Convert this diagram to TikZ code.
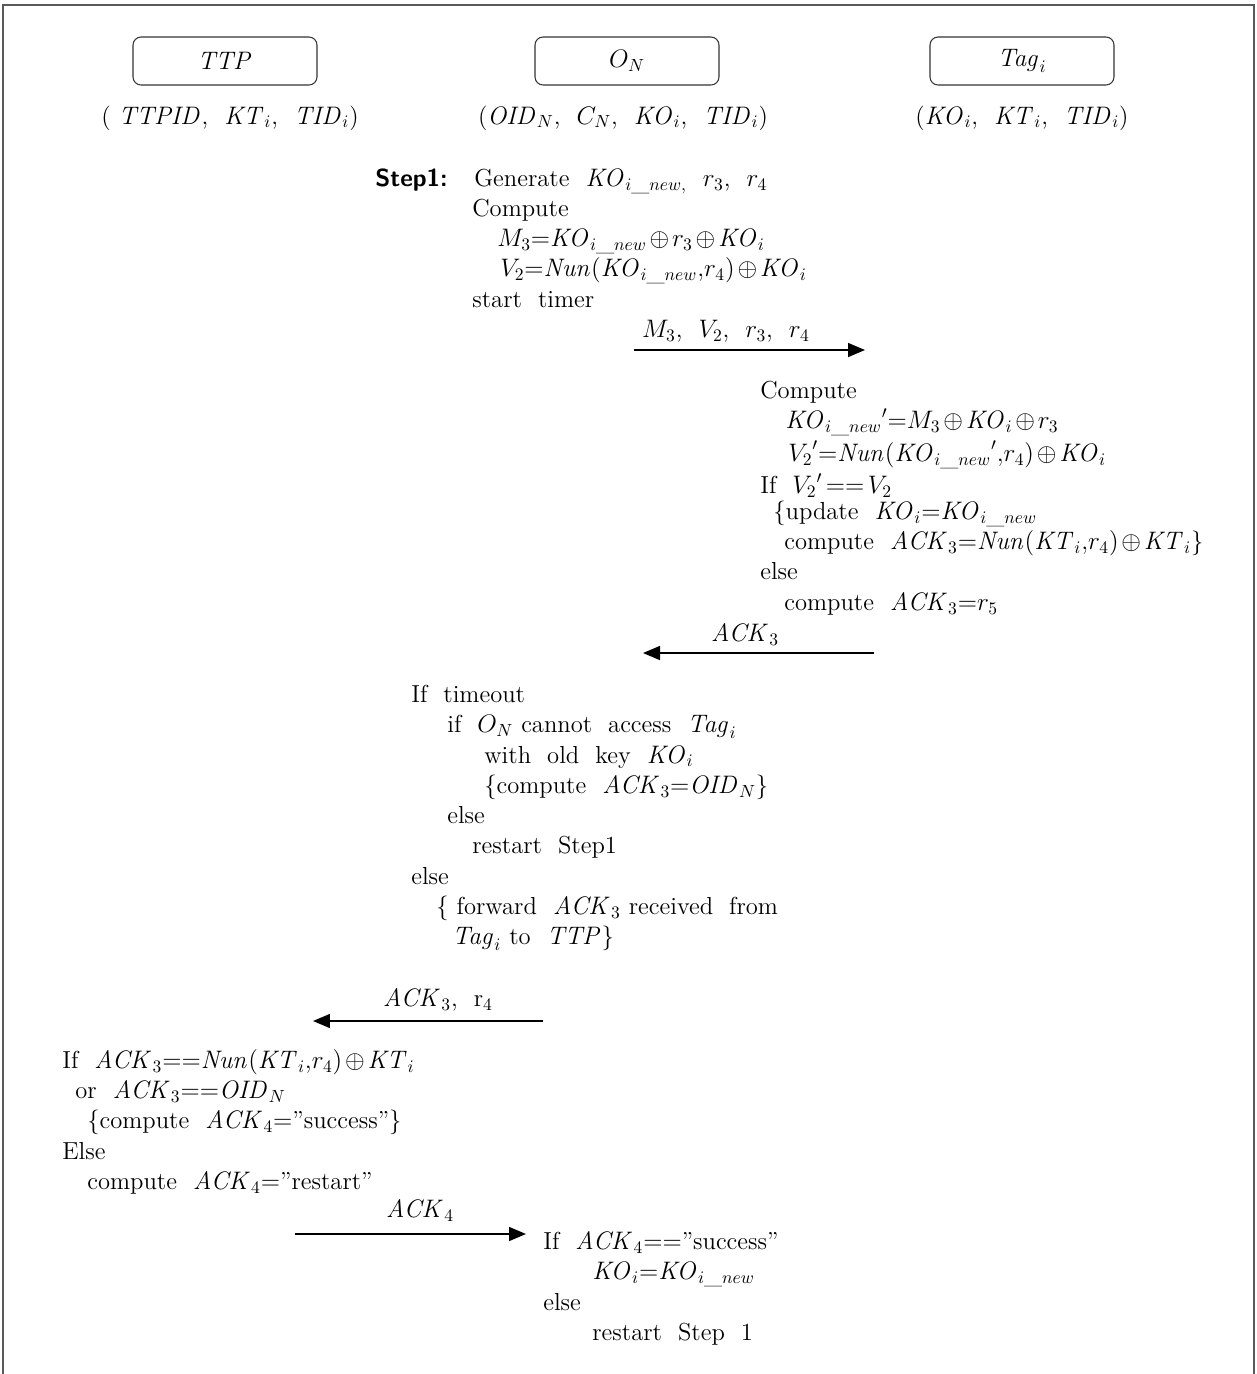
\documentclass[tikz,border=0pt]{standalone}
\usepackage{tikz}
\usetikzlibrary{arrows.meta}
\medmuskip=2mu plus 1mu minus 1mu\relax
\thickmuskip=2.5mu plus 1mu\relax
\tikzstyle{party} = [rectangle, rounded corners=0.16cm, minimum width=3.68cm, minimum height=0.96cm, text centered, draw=black!80, line width=0.6pt]
\tikzstyle{calc} = [anchor=north west, align=left, inner sep=0pt]
\tikzstyle{lbl} = [inner sep=0pt]
\tikzstyle{msg} = [line width=0.85pt, -{Triangle[length=0.34cm, width=0.28cm]}]

\begin{document}
\begin{tikzpicture}[x=0.02cm, y=-0.02cm, node distance=1.14cm, font=\fontsize{14}{17.2}\selectfont]
	\useasboundingbox (0,0) rectangle (1257,1374);
	\draw [line width=0.8pt, black!65] (3,1374) -- (3,5) -- (1254,5) -- (1254,1374);
	% parties and their keys
	\node (ttp) [party] at (225,61) {$\mathit{TTP}$};
	\node (on) [party] at (627,61) {$O_N$};
	\node (tag) [party] at (1022,61) {$\mathit{Tag}_i$};
	\node (ttpkey) [below of=ttp, xshift=0.1cm] {(~$\mathit{TTPID}$,~ $\mathit{KT}_i$,~ $\mathit{TID}_i$)};
	\node (onkey) [below of=on, xshift=-0.08cm] {($\mathit{OID}_N$,~ $C_N$,~ $\mathit{KO}_i$,~ $\mathit{TID}_i$)};
	\node (tagkey) [below of=tag] {($\mathit{KO}_i$,~ $\mathit{KT}_i$,~ $\mathit{TID}_i$)};
	% step 1 at O_N
	\node (step) [calc] at (375,169) {\textsf{\textbf{Step1:}}};
	\node (gen) [calc] at (474,169) {Generate~ $\mathit{KO}_{i\_new,}$~ $r_3$,~ $r_4$\\[-0.3pt] \hspace*{-0.04cm}Compute\\ \hspace*{0.46cm}$M_3{=}\mathit{KO}_{i\_new}\oplus r_3\oplus \mathit{KO}_i$\\ \hspace*{0.52cm}$V_2{=}\mathit{Nun}(\mathit{KO}_{i\_new}{,}r_4)\oplus \mathit{KO}_i$\\ \hspace*{-0.04cm}start~ timer};
	\coordinate (m1s) at (634,350);
	\coordinate (m1e) at (865,350);
	\draw [msg] (m1s) -- (m1e);
	\node (m1) [lbl] at (726,331) {$M_3$,~ $V_2$,~ $r_3$,~ $r_4$};
	% check at Tag_i
	\node (tagchk) [calc] at (760,381) {Compute\\ \hspace*{0.5cm}${\mathit{KO}_{i\_new}}'{=}M_3\oplus \mathit{KO}_i\oplus r_3$\\[1.3pt] \hspace*{0.56cm}${V_2}'{=}\mathit{Nun}({\mathit{KO}_{i\_new}}'{,}r_4)\oplus \mathit{KO}_i$\\[1.3pt] If~ ${V_2}'==V_2$\\[-2.6pt] \hspace*{0.26cm}\{update~ $\mathit{KO}_i{=}\mathit{KO}_{i\_new}$\\ \hspace*{0.48cm}compute~ $\mathit{ACK}_3{=}\mathit{Nun}(\mathit{KT}_i{,}r_4)\oplus \mathit{KT}_i$\}\\ else\\ \hspace*{0.48cm}compute~ $\mathit{ACK}_3{=}r_5$};
	\coordinate (m2s) at (874,653);
	\coordinate (m2e) at (643,653);
	\draw [msg] (m2s) -- (m2e);
	\node (m2) [lbl] at (745,635) {$\mathit{ACK}_3$};
	% O_N forwards
	\node (onfwd) [calc] at (411,685) {If~ timeout\\ \hspace*{0.72cm}if~ $O_N$ cannot~ access~ $\mathit{Tag}_i$\\ \hspace*{1.46cm}with~ old~ key~ $\mathit{KO}_i$\\ \hspace*{1.46cm}\{compute~ $\mathit{ACK}_3{=}\mathit{OID}_N$\}\\ \hspace*{0.72cm}else\\ \hspace*{1.22cm}restart~ Step1\\ else\\ \hspace*{0.5cm}\{ forward~ $\mathit{ACK}_3$ received~ from\\ \hspace*{0.82cm}$\mathit{Tag}_i$ to~ $\mathit{TTP}$\}};
	\coordinate (m3s) at (543,1021);
	\coordinate (m3e) at (313,1021);
	\draw [msg] (m3s) -- (m3e);
	\node (m3) [lbl] at (438,1000) {$\mathit{ACK}_3$,~ r$_4$};
	% TTP verifies
	\node (ttpchk) [calc] at (62,1049) {If~ $\mathit{ACK}_3{==}\mathit{Nun}(\mathit{KT}_i{,}r_4)\oplus \mathit{KT}_i$\\ \hspace*{0.26cm}or~ $\mathit{ACK}_3{==}\mathit{OID}_N$\\ \hspace*{0.5cm}\{compute~ $\mathit{ACK}_4{=}$''success''\}\\ Else\\ \hspace*{0.5cm}compute~ $\mathit{ACK}_4{=}$''restart''};
	\coordinate (m4s) at (295,1234);
	\coordinate (m4e) at (526,1234);
	\draw [msg] (m4s) -- (m4e);
	\node (m4) [lbl] at (420,1211) {$\mathit{ACK}_4$};
	% Tag_i updates
	\node (tagupd) [calc] at (543,1232) {If~ $\mathit{ACK}_4{==}$''success''\\ \hspace*{0.98cm}$\mathit{KO}_i{=}\mathit{KO}_{i\_new}$\\ else\\ \hspace*{0.98cm}restart~ Step~ 1};
\end{tikzpicture}
\end{document}
